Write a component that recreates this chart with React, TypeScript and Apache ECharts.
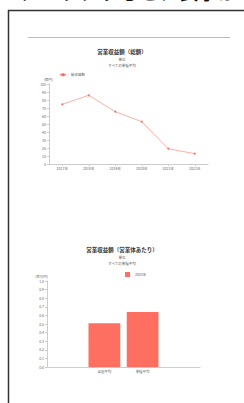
import React, { useEffect, useRef } from "react";
import * as echarts from "echarts";

const lineCategories = ["2017年", "2018年", "2019年", "2020年", "2021年", "2022年"];
const lineValues = [74.6, 85.9, 65.4, 52.9, 19.1, 12.9];
const barCategories = ["", "全国平均", "業種平均", ""];
const barValues: (number | string)[] = ["-", 0.51, 0.64, "-"];

const FONT = "'Noto Sans CJK JP', 'Noto Sans', sans-serif";

export default function App() {
  const ref = useRef<HTMLDivElement>(null);
  useEffect(() => {
    document.body.style.margin = "0";
    const chart = echarts.init(ref.current!, null, { renderer: "svg" });
    const axisLabel = { fontSize: 3.5, color: "#666", fontFamily: FONT };
    const axisLine = { show: true, lineStyle: { color: "#ccc", width: 1 } };
    chart.setOption({
      animation: false,
      textStyle: { fontFamily: FONT },
      title: [
        { text: "営業収益額（総額）", left: "center", top: 44, textStyle: { fontSize: 5.5, fontWeight: "bold", color: "#333" } },
        { text: "単位", left: "center", top: 52.5, textStyle: { fontSize: 3.5, fontWeight: "normal", color: "#555" } },
        { text: "すべての業種平均", left: "center", top: 59, textStyle: { fontSize: 3.5, fontWeight: "normal", color: "#555" } },
        { text: "営業収益額（営業体あたり）", left: "center", top: 242, textStyle: { fontSize: 5.5, fontWeight: "bold", color: "#333" } },
        { text: "単位", left: "center", top: 250.5, textStyle: { fontSize: 3.5, fontWeight: "normal", color: "#555" } },
        { text: "すべての業種平均", left: "center", top: 257, textStyle: { fontSize: 3.5, fontWeight: "normal", color: "#555" } },
      ],
      legend: [
        { left: 54, top: 68, itemWidth: 6, itemHeight: 4, itemGap: 2, textStyle: { fontSize: 3.5, color: "#555" }, data: ["総収益額"] },
        { left: 120, top: 267, itemWidth: 5, itemHeight: 5, itemGap: 2, icon: "rect", textStyle: { fontSize: 3.5, color: "#555" }, data: ["2023年"] },
      ],
      grid: [
        { left: 49, right: 36, top: 84, height: 80 },
        { left: 47, right: 44, top: 281, height: 86 },
      ],
      xAxis: [
        { gridIndex: 0, type: "category", data: lineCategories, axisLine, axisTick: { show: true, alignWithLabel: true, length: 2, lineStyle: { color: "#ccc" } }, axisLabel: { ...axisLabel, margin: 2.5 } },
        { gridIndex: 1, type: "category", data: barCategories, axisLine, axisTick: { show: false }, axisLabel: { ...axisLabel, margin: 2.5, interval: 0 } },
      ],
      yAxis: [
        {
          gridIndex: 0, type: "value", min: 0, max: 100, interval: 10, name: "(億円)",
          nameLocation: "end", nameGap: 3, nameTextStyle: { fontSize: 3.5, color: "#666", align: "right", padding: [0, -4, 0, 0] },
          axisLine, axisTick: { show: true, length: 2, lineStyle: { color: "#ccc" } }, splitLine: { show: false },
          axisLabel: { ...axisLabel, margin: 3 },
        },
        {
          gridIndex: 1, type: "value", min: 0, max: 1, interval: 0.1, name: "(百万円)",
          nameLocation: "end", nameGap: 3, nameTextStyle: { fontSize: 3.5, color: "#666", align: "right", padding: [0, -1, 0, 0] },
          axisLine, axisTick: { show: true, length: 2, lineStyle: { color: "#ccc" } }, splitLine: { show: false },
          axisLabel: { ...axisLabel, margin: 3, formatter: (v: number) => v.toFixed(1) },
        },
      ],
      series: [
        {
          name: "総収益額", type: "line", xAxisIndex: 0, yAxisIndex: 0, data: lineValues,
          symbol: "circle", symbolSize: 2, lineStyle: { color: "#ff9a90", width: 0.8 }, itemStyle: { color: "#ff6b61" },
        },
        {
          name: "2023年", type: "bar", xAxisIndex: 1, yAxisIndex: 1, data: barValues,
          barWidth: "83%", itemStyle: { color: "#ff6f61" },
        },
      ],
      graphic: [
        { type: "text", left: -1, top: -19, style: { text: "ークリックすると、表示が切り替わります", fontSize: 20, fill: "#111", fontFamily: FONT } },
        { type: "line", shape: { x1: 8.5, y1: 10, x2: 8.5, y2: 403 }, style: { stroke: "#333", lineWidth: 1.5 } },
        { type: "line", shape: { x1: 8, y1: 10.5, x2: 244, y2: 10.5 }, style: { stroke: "#333", lineWidth: 1.5 } },
        { type: "line", shape: { x1: 28, y1: 37.5, x2: 230, y2: 37.5 }, style: { stroke: "#bbb", lineWidth: 1 } },
      ],
    });
    return () => chart.dispose();
  }, []);
  return <div ref={ref} style={{ position: "absolute", left: 0, top: 0, width: 244, height: 403, background: "#fff" }} />;
}
